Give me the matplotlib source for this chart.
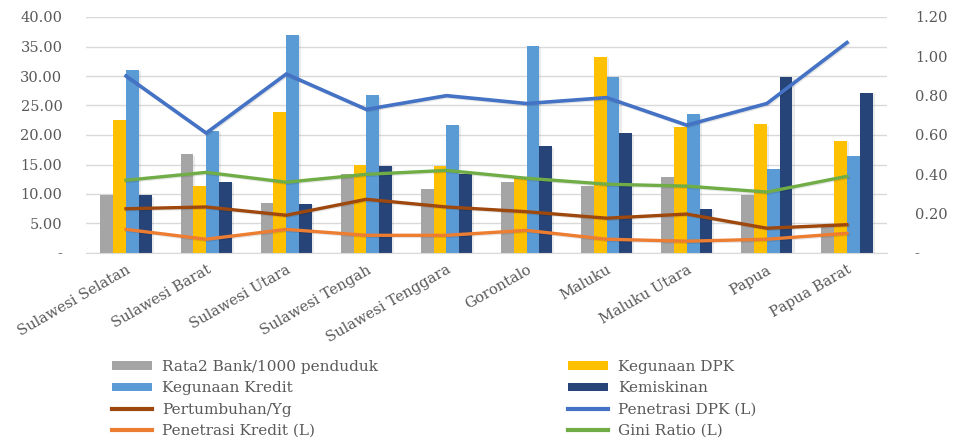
import numpy as np
import matplotlib
matplotlib.use("Agg")
import matplotlib.pyplot as plt
from matplotlib import patheffects as pe
from matplotlib.ticker import FuncFormatter, MultipleLocator
from matplotlib.patches import Patch
from matplotlib.lines import Line2D

# ---- data -------------------------------------------------------------
categories = ["Sulawesi Selatan", "Sulawesi Barat", "Sulawesi Utara",
              "Sulawesi Tengah", "Sulawesi Tenggara", "Gorontalo",
              "Maluku", "Maluku Utara", "Papua", "Papua Barat"]

rata2_bank = [9.9, 16.7, 8.5, 13.4, 10.9, 12.0, 11.4, 12.9, 9.9, 4.6]
kegunaan_dpk = [22.6, 11.3, 23.9, 15.0, 14.8, 12.9, 33.3, 21.4, 21.8, 19.0]
kegunaan_kredit = [31.0, 20.7, 37.0, 26.7, 21.7, 35.1, 29.9, 23.5, 14.2, 16.4]
kemiskinan = [9.8, 12.1, 8.3, 14.8, 13.4, 18.1, 20.3, 7.5, 29.9, 27.1]
pertumbuhan = [7.5, 7.8, 6.4, 9.1, 7.8, 7.0, 5.9, 6.6, 4.2, 4.8]

# right-hand axis series
penetrasi_dpk = [0.90, 0.61, 0.91, 0.73, 0.80, 0.76, 0.79, 0.65, 0.76, 1.07]
penetrasi_kredit = [0.12, 0.07, 0.12, 0.09, 0.09, 0.115, 0.07, 0.06, 0.07, 0.10]
gini_ratio = [0.37, 0.41, 0.36, 0.40, 0.42, 0.38, 0.35, 0.34, 0.31, 0.39]

# ---- style ------------------------------------------------------------
plt.rcParams["font.family"] = ["DejaVu Serif"]
TXT = "#595959"
C_GRAY, C_GOLD, C_BLUE, C_NAVY = "#A5A5A5", "#FFC000", "#5B9BD5", "#264478"
C_BROWN, C_DPK, C_ORANGE, C_GREEN = "#9E480E", "#4472C4", "#ED7D31", "#70AD47"

W, H = 954, 442
fig = plt.figure(figsize=(W / 100, H / 100), dpi=100)
ax = fig.add_axes([86 / W, 1 - 253 / H, (887 - 86) / W, (253 - 17) / H])
ax2 = ax.twinx()

x = np.arange(len(categories))
bw = 0.16
bar_fx = [pe.SimplePatchShadow(offset=(1.5, -1.0), alpha=0.15,
                               shadow_rgbFace="#7f7f7f"), pe.Normal()]
line_fx = [pe.SimpleLineShadow(offset=(0.8, -0.8), alpha=0.10), pe.Normal()]

bar_series = [(rata2_bank, C_GRAY), (kegunaan_dpk, C_GOLD),
              (kegunaan_kredit, C_BLUE), (kemiskinan, C_NAVY)]
for k, (vals, col) in enumerate(bar_series):
    bars = ax.bar(x + (k - 1.5) * bw, vals, width=bw, color=col, zorder=2,
                  linewidth=0)
    for b in bars:
        b.set_path_effects(bar_fx)

ax.plot(x, pertumbuhan, color=C_BROWN, lw=2.4, zorder=4,
        solid_joinstyle="miter", path_effects=line_fx)
ax2.plot(x, penetrasi_dpk, color=C_DPK, lw=2.6, solid_joinstyle="miter",
         path_effects=line_fx)
ax2.plot(x, penetrasi_kredit, color=C_ORANGE, lw=2.4, solid_joinstyle="miter",
         path_effects=line_fx)
ax2.plot(x, gini_ratio, color=C_GREEN, lw=2.4, solid_joinstyle="miter",
         path_effects=line_fx)

# ---- axes -------------------------------------------------------------
ax.set_xlim(-0.5, len(categories) - 0.5)
ax.set_ylim(0, 40)
ax2.set_ylim(0, 1.2)
ax.yaxis.set_major_locator(MultipleLocator(5))
ax2.yaxis.set_major_locator(MultipleLocator(0.2))
ax.yaxis.set_major_formatter(FuncFormatter(lambda v, p: "-" if abs(v) < 1e-9 else f"{v:.2f}"))
ax2.yaxis.set_major_formatter(FuncFormatter(lambda v, p: "-" if abs(v) < 1e-9 else f"{v:.2f}"))

ax.grid(axis="y", color="#D9D9D9", lw=1.0, zorder=0)
ax.set_axisbelow(True)
for a in (ax, ax2):
    for s in a.spines.values():
        s.set_visible(False)
ax.spines["bottom"].set_visible(True)
ax.spines["bottom"].set_color("#D9D9D9")

ax.tick_params(axis="y", length=0, pad=17, labelsize=10.5, labelcolor=TXT)
ax2.tick_params(axis="y", length=0, pad=20, labelsize=10.5, labelcolor=TXT)
ax.set_xticks(x)
ax.set_xticklabels(categories, rotation=30, ha="right", va="top",
                   rotation_mode="anchor", fontsize=10.5, color=TXT)
ax.tick_params(axis="x", length=0, pad=7)

# ---- legend (two columns, row-major order) ---------------------------
def bar_handle(c):
    return Patch(facecolor=c, edgecolor="none")

def line_handle(c):
    return Line2D([], [], color=c, lw=3)

col1 = [(bar_handle(C_GRAY), "Rata2 Bank/1000 penduduk"),
        (bar_handle(C_BLUE), "Kegunaan Kredit"),
        (line_handle(C_BROWN), "Pertumbuhan/Yg"),
        (line_handle(C_ORANGE), "Penetrasi Kredit (L)")]
col2 = [(bar_handle(C_GOLD), "Kegunaan DPK"),
        (bar_handle(C_NAVY), "Kemiskinan"),
        (line_handle(C_DPK), "Penetrasi DPK (L)"),
        (line_handle(C_GREEN), "Gini Ratio (L)")]

for entries, x0 in ((col1, 112), (col2, 568)):
    h, l = zip(*entries)
    fig.legend(h, l, loc="upper left",
               bbox_to_anchor=(x0 / W, 1 - 360 / H),
               frameon=False, borderpad=0, borderaxespad=0,
               handlelength=2.6, handleheight=0.45, handletextpad=0.7,
               labelspacing=0.48, fontsize=11, labelcolor=TXT)

fig.savefig("out.png", dpi=100)
